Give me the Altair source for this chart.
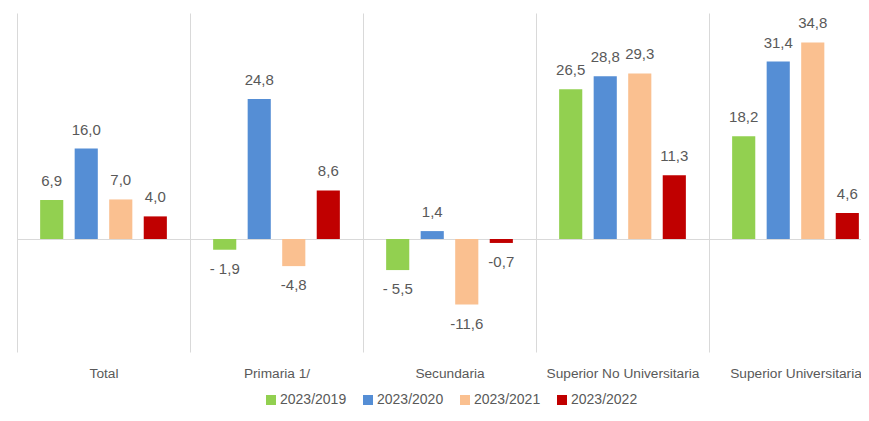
import altair as alt
import pandas as pd

categories = ["Total", "Primaria 1/", "Secundaria", "Superior No Universitaria", "Superior Universitaria"]
series = ["2023/2019", "2023/2020", "2023/2021", "2023/2022"]
colors = ["#92D050", "#558ED5", "#FAC090", "#C00000"]

v_2019 = [6.9, -1.9, -5.5, 26.5, 18.2]
v_2020 = [16.0, 24.8, 1.4, 28.8, 31.4]
v_2021 = [7.0, -4.8, -11.6, 29.3, 34.8]
v_2022 = [4.0, 8.6, -0.7, 11.3, 4.6]

lab_2019 = ["6,9", "- 1,9", "- 5,5", "26,5", "18,2"]
lab_2020 = ["16,0", "24,8", "1,4", "28,8", "31,4"]
lab_2021 = ["7,0", "-4,8", "-11,6", "29,3", "34,8"]
lab_2022 = ["4,0", "8,6", "-0,7", "11,3", "4,6"]

values = [v_2019, v_2020, v_2021, v_2022]
labels = [lab_2019, lab_2020, lab_2021, lab_2022]

rows = []
for s, vals, labs in zip(series, values, labels):
    for c, v, l in zip(categories, vals, labs):
        rows.append({"category": c, "series": s, "value": v, "label": l})
df = pd.DataFrame(rows)

FONT = "Liberation Sans"
GREY = "#595959"

base = alt.Chart(df).encode(
    x=alt.X(
        "category:N",
        sort=categories,
        scale=alt.Scale(range=[0, 865], paddingInner=0, paddingOuter=0),
        axis=alt.Axis(
            title=None, labelAngle=0, tickBand="extent", grid=True,
            gridColor="#D9D9D9", gridWidth=1, ticks=False, domain=False,
            labelFontSize=13.7, labelColor=GREY, labelFont=FONT, labelPadding=14,
            labelLimit=300,
        ),
    ),
    xOffset=alt.XOffset(
        "series:N", sort=series,
        scale=alt.Scale(paddingInner=0.33, paddingOuter=0.67),
    ),
    y=alt.Y(
        "value:Q",
        scale=alt.Scale(domain=[-20, 40], nice=False, zero=True),
        axis=alt.Axis(
            title=None, values=[0], grid=True, gridColor="#D9D9D9", gridWidth=1,
            labels=False, ticks=False, domain=False,
        ),
    ),
)

bars = base.mark_bar().encode(
    color=alt.Color(
        "series:N",
        sort=series,
        scale=alt.Scale(domain=series, range=colors),
        legend=alt.Legend(
            title=None, orient="none", direction="horizontal",
            legendX=247, legendY=380, symbolType="square", symbolSize=100,
            symbolStrokeWidth=0, labelFontSize=14, labelColor=GREY,
            labelFont=FONT, columnPadding=14, labelOffset=2, padding=0,
        ),
    )
)

pos = base.transform_filter("datum.value >= 0").mark_text(
    dy=-19, fontSize=15, color=GREY, font=FONT
).encode(text="label:N")

neg = base.transform_filter("datum.value < 0").mark_text(
    dy=19, fontSize=15, color=GREY, font=FONT
).encode(text="label:N")

chart = alt.layer(bars, pos, neg).properties(
    width=844,
    height=339,
    padding={"left": 9, "top": 5, "right": 0, "bottom": 56},
    autosize=alt.AutoSizeParams(type="none"),
).configure_view(stroke=None)

chart.save("out.html", embed_options={"renderer": "svg", "actions": False})
